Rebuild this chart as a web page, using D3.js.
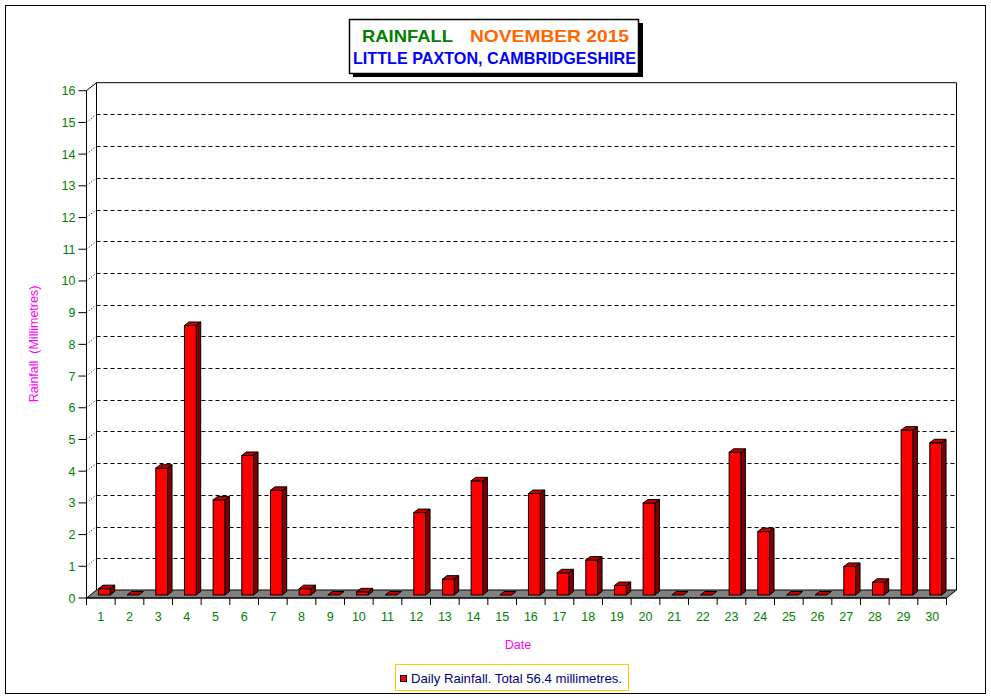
<!DOCTYPE html>
<html><head><meta charset="utf-8">
<script src="https://cdn.jsdelivr.net/npm/d3@7"></script>
<style>body{margin:0;background:#fff}svg{display:block}</style>
</head><body>
<script>
const days = d3.range(1, 31).map(String);
const rainfall = [0.2,0,4.0,8.5,3.0,4.4,3.3,0.2,0,0.1,0,2.6,0.5,3.6,0,3.2,0.7,1.1,0.3,2.9,0,0,4.5,2.0,0,0,0.9,0.4,5.2,4.8];
const yTicks = d3.range(0, 17);
const titleLine1a = "RAINFALL";
const titleLine1b = "NOVEMBER 2015";
const titleLine2 = "LITTLE PAXTON, CAMBRIDGESHIRE";
const yTitle = "Rainfall  (Millimetres)";
const xTitle = "Date";
const legendText = "Daily Rainfall. Total 56.4 millimetres.";

const W = 991, H = 698;
const svg = d3.select("body").append("svg").attr("width", W).attr("height", H)
  .style("font-family", "'Liberation Sans', Arial, sans-serif");

svg.append("rect").attr("x", 5.5).attr("y", 5.5).attr("width", 980).attr("height", 688)
  .attr("fill", "#fff").attr("stroke", "#000");

const x0 = 86.5, x1 = 946.5, yBase = 598, yTop = 90.7;
const DX = 10, DY = -8; // depth of chart
const x = d3.scaleBand().domain(days).range([x0, x1]).paddingInner(0).paddingOuter(0);
const y = d3.scaleLinear().domain([0, 16]).range([yBase, yTop]);

const g = svg.append("g");
// back wall
g.append("rect").attr("x", x0 + DX).attr("y", y(16) + DY).attr("width", x1 - x0).attr("height", yBase - yTop)
  .attr("fill", "#fff").attr("stroke", "none");
// gridlines on back wall
yTicks.filter(t => t > 0 && t < 16).forEach(t => {
  const yy = Math.round(y(t) + DY) + 0.5;
  g.append("line").attr("x1", x0 + DX).attr("x2", x1 + DX).attr("y1", yy).attr("y2", yy)
    .attr("stroke", "#000").attr("stroke-dasharray", "4,3");
  g.append("line").attr("x1", x0).attr("y1", y(t)).attr("x2", x0 + DX).attr("y2", y(t) + DY)
    .attr("stroke", "#000").attr("stroke-dasharray", "1,2");
});
// back wall border lines
g.append("path").attr("d", `M${x0 + DX},${yBase + DY}V${y(16) + DY}H${x1 + DX}V${yBase + DY}`)
  .attr("fill", "none").attr("stroke", "#000");
g.append("line").attr("x1", x0).attr("y1", y(16)).attr("x2", x0 + DX).attr("y2", y(16) + DY).attr("stroke", "#000");

// floor
g.append("path").attr("d", `M${x0},${yBase}L${x1},${yBase}L${x1 + DX},${yBase + DY}L${x0 + DX},${yBase + DY}Z`)
  .attr("fill", "#808080").attr("stroke", "#000");

// bars
const bw = x.bandwidth() * 0.41;
const ox = 3.5, oy = -3, bdx = 4.5, bdy = -3.5;
const bars = g.selectAll("g.bar").data(days.map((d, i) => ({ d, v: rainfall[i] }))).join("g");
bars.each(function (p) {
  const s = d3.select(this);
  const L = x(p.d) + x.bandwidth() / 2 - bw / 2 + ox;
  const R = L + bw;
  const yb = y(0) + oy, yt = y(p.v) + oy;
  if (p.v > 0) {
    s.append("path").attr("d", `M${R},${yt}L${R + bdx},${yt + bdy}L${R + bdx},${yb + bdy}L${R},${yb}Z`)
      .attr("fill", "#800000").attr("stroke", "#000");
    s.append("rect").attr("x", L).attr("y", yt).attr("width", bw).attr("height", yb - yt)
      .attr("fill", "#ff0000").attr("stroke", "#000");
  }
  s.append("path").attr("d", `M${L},${yt}L${R},${yt}L${R + bdx},${yt + bdy}L${L + bdx},${yt + bdy}Z`)
    .attr("fill", "#c00000").attr("stroke", "#000");
});

// front y axis
g.append("line").attr("x1", x0).attr("x2", x0).attr("y1", yTop).attr("y2", yBase + 7).attr("stroke", "#000");
yTicks.forEach(t => {
  g.append("line").attr("x1", x0 - 8).attr("x2", x0).attr("y1", y(t)).attr("y2", y(t)).attr("stroke", "#000");
  g.append("text").attr("x", x0 - 11).attr("y", y(t)).attr("dy", "0.36em").attr("text-anchor", "end")
    .attr("font-size", 12.5).attr("fill", "#008000").text(t);
});
// front x axis
g.append("line").attr("x1", x0).attr("x2", x1).attr("y1", yBase).attr("y2", yBase).attr("stroke", "#000");
days.forEach((d, i) => {
  const xr = x(d) + x.bandwidth();
  g.append("line").attr("x1", xr).attr("x2", xr).attr("y1", yBase).attr("y2", yBase + 7).attr("stroke", "#000");
  g.append("text").attr("x", x(d) + x.bandwidth() / 2).attr("y", 621).attr("text-anchor", "middle")
    .attr("font-size", 12.5).attr("fill", "#008000").text(d);
});

// axis titles
svg.append("text").attr("transform", "translate(38,344) rotate(-90)").attr("text-anchor", "middle")
  .attr("font-size", 12.5).attr("fill", "#ff00ff").style("white-space", "pre").text(yTitle);
svg.append("text").attr("x", 518).attr("y", 649).attr("text-anchor", "middle")
  .attr("font-size", 12.5).attr("fill", "#ff00ff").text(xTitle);

// title box
svg.append("rect").attr("x", 353).attr("y", 23).attr("width", 290).attr("height", 54).attr("fill", "#000");
svg.append("rect").attr("x", 349.5).attr("y", 19.5).attr("width", 289).attr("height", 54).attr("fill", "#fff").attr("stroke", "#000").attr("stroke-width", 1.5);
svg.append("text").attr("x", 362).attr("y", 42).attr("font-size", 17).attr("font-weight", "bold").attr("fill", "#008000")
  .attr("textLength", 91).attr("lengthAdjust", "spacingAndGlyphs").text(titleLine1a);
svg.append("text").attr("x", 470).attr("y", 42).attr("font-size", 17).attr("font-weight", "bold").attr("fill", "#ff6600")
  .attr("textLength", 159).attr("lengthAdjust", "spacingAndGlyphs").text(titleLine1b);
svg.append("text").attr("x", 353).attr("y", 64).attr("font-size", 17).attr("font-weight", "bold").attr("fill", "#0000ff")
  .attr("textLength", 283).attr("lengthAdjust", "spacingAndGlyphs").text(titleLine2);

// legend
svg.append("rect").attr("x", 395.5).attr("y", 664.5).attr("width", 233).attr("height", 26).attr("fill", "#fff").attr("stroke", "#ffcc00");
svg.append("rect").attr("x", 400.5).attr("y", 675.5).attr("width", 6).attr("height", 6).attr("fill", "#ff0000").attr("stroke", "#000");
svg.append("text").attr("x", 411).attr("y", 682.5).attr("font-size", 13).attr("fill", "#000080")
  .attr("textLength", 211).attr("lengthAdjust", "spacingAndGlyphs").text(legendText);
</script>
</body></html>
